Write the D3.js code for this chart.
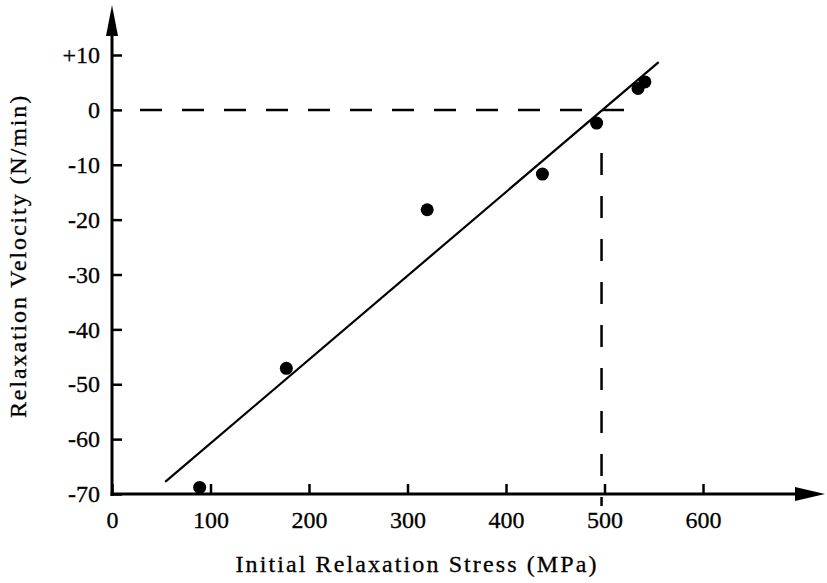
<!DOCTYPE html>
<html>
<head>
<meta charset="utf-8">
<script src="https://cdn.jsdelivr.net/npm/d3@7"></script>
<style>
  html, body { margin: 0; padding: 0; background: #fff; }
  svg { display: block; }
  text { font-family: "Liberation Serif", "Times New Roman", serif; fill: #000; }
</style>
</head>
<body>
<svg id="chart" width="827" height="583"></svg>
<script>
// Initial relaxation stress (MPa) and relaxation velocity (N/min) of the measured runs
const stress   = [89, 177, 320, 437, 492, 534, 541];
const velocity = [-68.8, -47.1, -18.2, -11.7, -2.4, 3.9, 5.1];

// Fitted straight line, given by its two end points
const fitStress   = [54, 555];
const fitVelocity = [-67.8, 8.7];

// Stress at which the fitted velocity reaches zero
const zeroStress = 497;

// Axis ticks
const xTicks = [0, 100, 200, 300, 400, 500, 600];
const yTicks = [10, 0, -10, -20, -30, -40, -50, -60, -70];

const svg = d3.select("#chart");

const x = d3.scaleLinear().domain([0, 600]).range([112, 703]);
const y = d3.scaleLinear().domain([-70, 10]).range([494, 55]);

const x0 = x(0), y0 = y(-70);
const xEnd = 825, yTop = 5;

// Y axis: ticks point inward, labels on the left
const yAxis = d3.axisLeft(y)
  .tickValues(yTicks)
  .tickSizeInner(-10)
  .tickSizeOuter(0)
  .tickPadding(12)
  .tickFormat(d => d > 0 ? "+" + d : String(d));
const gy = svg.append("g").attr("transform", `translate(${x0},0)`).call(yAxis);
gy.select(".domain").remove();
gy.selectAll(".tick line").attr("stroke", "#000").attr("stroke-width", 2.5);
gy.selectAll(".tick text")
  .attr("font-size", 24)
  .attr("font-family", "Liberation Serif, serif")
  .attr("fill", "#000")
  .attr("stroke", "#000").attr("stroke-width", 0.3);

// X axis: ticks point upward, labels below
const xAxis = d3.axisBottom(x)
  .tickValues(xTicks)
  .tickSizeInner(-10)
  .tickSizeOuter(0)
  .tickPadding(17)
  .tickFormat(d => String(d));
const gx = svg.append("g").attr("transform", `translate(0,${y0})`).call(xAxis);
gx.select(".domain").remove();
gx.selectAll(".tick line").attr("stroke", "#000").attr("stroke-width", 2.5);
gx.selectAll(".tick text")
  .attr("font-size", 24)
  .attr("font-family", "Liberation Serif, serif")
  .attr("fill", "#000")
  .attr("stroke", "#000").attr("stroke-width", 0.3);

// Axis lines with arrow heads
svg.append("line")
  .attr("x1", x0).attr("y1", y0 + 2).attr("x2", x0).attr("y2", yTop + 20)
  .attr("stroke", "#000").attr("stroke-width", 3);
svg.append("path")
  .attr("d", `M${x0},${yTop} L${x0 - 6},${yTop + 31} L${x0 + 6},${yTop + 31} Z`)
  .attr("fill", "#000");
svg.append("line")
  .attr("x1", x0 - 1.5).attr("y1", y0).attr("x2", xEnd - 20).attr("y2", y0)
  .attr("stroke", "#000").attr("stroke-width", 3);
svg.append("path")
  .attr("d", `M${xEnd},${y0} L${xEnd - 30},${y0 - 7} L${xEnd - 30},${y0 + 7} Z`)
  .attr("fill", "#000");

// Dashed guides: zero velocity and the stress where the fit crosses it
svg.append("line")
  .attr("x1", 140).attr("y1", y(0)).attr("x2", 627).attr("y2", y(0))
  .attr("stroke", "#000").attr("stroke-width", 2.5)
  .attr("stroke-dasharray", "22,20");
svg.append("line")
  .attr("x1", x(zeroStress)).attr("y1", 153).attr("x2", x(zeroStress)).attr("y2", y0 + 12)
  .attr("stroke", "#000").attr("stroke-width", 2.5)
  .attr("stroke-dasharray", "22,21");

// Fitted line
svg.append("line")
  .attr("x1", x(fitStress[0])).attr("y1", y(fitVelocity[0]))
  .attr("x2", x(fitStress[1])).attr("y2", y(fitVelocity[1]))
  .attr("stroke", "#000").attr("stroke-width", 2.2);

// Measured points
svg.append("g").selectAll("circle")
  .data(stress.map((s, i) => [s, velocity[i]]))
  .join("circle")
  .attr("cx", d => x(d[0]))
  .attr("cy", d => y(d[1]))
  .attr("r", 6.5)
  .attr("fill", "#000");

// Axis titles
svg.append("text")
  .attr("x", 417).attr("y", 572)
  .attr("text-anchor", "middle")
  .attr("font-size", 24)
  .attr("letter-spacing", 2.1)
  .attr("stroke", "#000").attr("stroke-width", 0.3)
  .text("Initial Relaxation Stress (MPa)");
svg.append("text")
  .attr("transform", "translate(26,256) rotate(-90)")
  .attr("text-anchor", "middle")
  .attr("font-size", 24)
  .attr("letter-spacing", 1.9)
  .attr("stroke", "#000").attr("stroke-width", 0.3)
  .text("Relaxation Velocity (N/min)");
</script>
</body>
</html>
